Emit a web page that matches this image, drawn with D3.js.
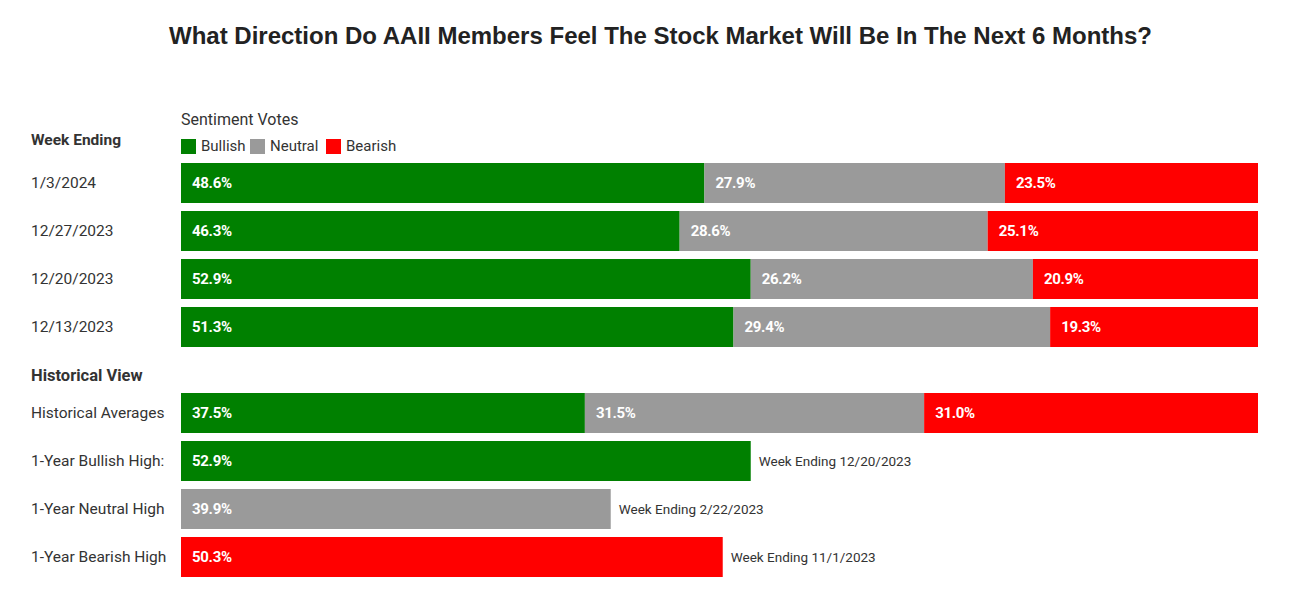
<!DOCTYPE html>
<html><head><meta charset="utf-8">
<script src="https://cdn.jsdelivr.net/npm/d3@7"></script>
<style>body{margin:0;background:#fff;} svg{display:block;}</style>
</head><body>
<svg id="chart" width="1301" height="590"></svg>
<script>
const weekLabels = ["1/3/2024","12/27/2023","12/20/2023","12/13/2023"];
const bullish = [48.6, 46.3, 52.9, 51.3];
const neutral = [27.9, 28.6, 26.2, 29.4];
const bearish = [23.5, 25.1, 20.9, 19.3];
const histLabel = "Historical Averages";
const histValues = [37.5, 31.5, 31.0];
const highLabels = ["1-Year Bullish High:","1-Year Neutral High","1-Year Bearish High"];
const highValues = [52.9, 39.9, 50.3];
const highDates = ["Week Ending 12/20/2023","Week Ending 2/22/2023","Week Ending 11/1/2023"];
const seriesNames = ["Bullish","Neutral","Bearish"];
const colors = ["#008000","#9a9a9a","#ff0000"];

const svg = d3.select("#chart");
const x = d3.scaleLinear().domain([0,100]).range([181,1258]);
const bh = 40;
const yPos = k => ({w0:163,w1:211,w2:259,w3:307,h0:393,h1:441,h2:489,h3:537})[k];
const labelFont = "Roboto, 'Noto Sans', sans-serif";

svg.append("text").attr("x",169).attr("y",44)
  .attr("font-family","'Liberation Sans', Arial, sans-serif").attr("font-weight","bold")
  .attr("font-size",24).attr("fill","#222")
  .attr("textLength",983).attr("lengthAdjust","spacingAndGlyphs")
  .text("What Direction Do AAII Members Feel The Stock Market Will Be In The Next 6 Months?");

svg.append("text").attr("x",181).attr("y",125).attr("font-family",labelFont)
  .attr("font-size",16).attr("fill","#333").text("Sentiment Votes");
svg.append("text").attr("x",31).attr("y",145).attr("font-family",labelFont)
  .attr("font-weight","bold").attr("font-size",15.5).attr("fill","#333").text("Week Ending");
svg.append("text").attr("x",31).attr("y",381).attr("font-family",labelFont)
  .attr("font-weight","bold").attr("font-size",16.5).attr("fill","#333").text("Historical View");

const legX = [181, 250, 326];
const leg = svg.append("g");
seriesNames.forEach((n,i)=>{
  leg.append("rect").attr("x",legX[i]).attr("y",139).attr("width",15).attr("height",15).attr("fill",colors[i]);
  leg.append("text").attr("x",legX[i]+20).attr("y",151).attr("font-family",labelFont)
    .attr("font-size",15).attr("fill","#333").text(n);
});

function valueLabel(xx, yy, v){
  svg.append("text").attr("x",xx+11).attr("y",yy+bh/2+5).attr("font-family",labelFont)
    .attr("font-weight","bold").attr("font-size",15).attr("fill","#fff").attr("letter-spacing","-0.3")
    .text(v.toFixed(1)+"%");
}
function rowLabel(yy, label){
  svg.append("text").attr("x",31).attr("y",yy+bh/2+5).attr("font-family",labelFont)
    .attr("font-size",15.5).attr("fill","#333").text(label);
}
function drawStack(key, vals, label){
  const yy = yPos(key);
  let acc = 0;
  vals.forEach((v,i)=>{
    const x0 = x(acc), x1 = x(acc+v);
    svg.append("rect").attr("x",x0).attr("y",yy).attr("width",x1-x0).attr("height",bh).attr("fill",colors[i]);
    valueLabel(x0, yy, v);
    acc += v;
  });
  rowLabel(yy, label);
}
weekLabels.forEach((l,i)=>drawStack("w"+i,[bullish[i],neutral[i],bearish[i]],l));
drawStack("h0", histValues, histLabel);

highValues.forEach((v,i)=>{
  const yy = yPos("h"+(i+1));
  svg.append("rect").attr("x",x(0)).attr("y",yy).attr("width",x(v)-x(0)).attr("height",bh).attr("fill",colors[i]);
  valueLabel(x(0), yy, v);
  svg.append("text").attr("x",x(v)+8).attr("y",yy+bh/2+5).attr("font-family",labelFont)
    .attr("font-size",13.5).attr("fill","#333").text(highDates[i]);
  rowLabel(yy, highLabels[i]);
});
</script>
</body></html>
